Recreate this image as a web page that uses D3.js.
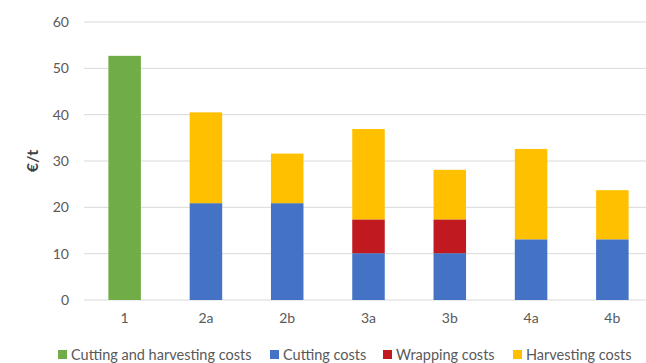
<!DOCTYPE html>
<html>
<head>
<meta charset="utf-8">
<script src="https://cdn.jsdelivr.net/npm/d3@7"></script>
<style>
  body { margin: 0; background: #fff; }
  text { font-family: Lato, "Liberation Sans", sans-serif; fill: #595959; }
</style>
</head>
<body>
<svg id="chart" width="646" height="363"></svg>
<script>
// values (€/t)
var categories = ['1', '2a', '2b', '3a', '3b', '4a', '4b'];
var cuttingHarvesting = [52.7, 0, 0, 0, 0, 0, 0];
var cutting = [0, 20.9, 20.9, 10.1, 10.1, 13.1, 13.1];
var wrapping = [0, 0, 0, 7.3, 7.3, 0, 0];
var harvesting = [0, 19.6, 10.7, 19.5, 10.7, 19.5, 10.6];
var yTicks = [0, 10, 20, 30, 40, 50, 60];

var seriesNames = ['Cutting and harvesting costs', 'Cutting costs', 'Wrapping costs', 'Harvesting costs'];
var seriesKeys = ['ch', 'cut', 'wrap', 'harv'];
var colors = ['#70AD47', '#4472C4', '#C0191F', '#FFC000'];

var rows = categories.map(function(c, i){
    return { cat: c, ch: cuttingHarvesting[i], cut: cutting[i], wrap: wrapping[i], harv: harvesting[i] };
});

var svg = d3.select('#chart');

var x = d3.scaleBand().domain(categories).range([84, 653]).paddingInner(0.6).paddingOuter(0.3);
var y = d3.scaleLinear().domain([0, 60]).range([300, 22]);

// gridlines
svg.append('g')
    .selectAll('line')
    .data(yTicks)
    .join('line')
    .attr('x1', 84).attr('x2', 646)
    .attr('y1', function(d){ return y(d); })
    .attr('y2', function(d){ return y(d); })
    .attr('stroke', '#D9D9D9')
    .attr('stroke-width', 1);

// y tick labels
var yAxis = svg.append('g')
    .attr('transform', 'translate(69,0)')
    .call(d3.axisLeft(y).tickValues(yTicks).tickSize(0).tickPadding(0));
yAxis.select('.domain').remove();
yAxis.selectAll('text').style('font-size', '14px').attr('fill', '#595959');

// x tick labels
var xAxis = svg.append('g')
    .attr('transform', 'translate(0,313)')
    .call(d3.axisBottom(x).tickSize(0).tickPadding(0));
xAxis.select('.domain').remove();
xAxis.selectAll('text').style('font-size', '14px').attr('fill', '#595959');

// axis title
svg.append('text')
    .attr('transform', 'translate(38,161) rotate(-90)')
    .attr('text-anchor', 'middle')
    .style('font-size', '16px')
    .style('font-weight', 'bold')
    .style('fill', '#404040')
    .text('€/t');

// stacked bars
var stacked = d3.stack().keys(seriesKeys)(rows);
svg.append('g')
    .selectAll('g')
    .data(stacked)
    .join('g')
    .attr('fill', function(d, i){ return colors[i]; })
    .selectAll('rect')
    .data(function(d){ return d.filter(function(p){ return p[1] - p[0] > 0; }); })
    .join('rect')
    .attr('x', function(d){ return x(d.data.cat); })
    .attr('width', x.bandwidth())
    .attr('y', function(d){ return y(d[1]); })
    .attr('height', function(d){ return y(d[0]) - y(d[1]); });

// legend
var legendX = [58, 270, 383, 513];
var legend = svg.append('g').selectAll('g')
    .data(seriesNames)
    .join('g')
    .attr('transform', function(d, i){ return 'translate(' + legendX[i] + ',355)'; });
legend.append('rect')
    .attr('x', 0).attr('y', -5)
    .attr('width', 9).attr('height', 9)
    .attr('fill', function(d, i){ return colors[i]; });
legend.append('text')
    .attr('x', 13).attr('y', 5)
    .style('font-size', '14.5px')
    .text(function(d){ return d; });
</script>
</body>
</html>
